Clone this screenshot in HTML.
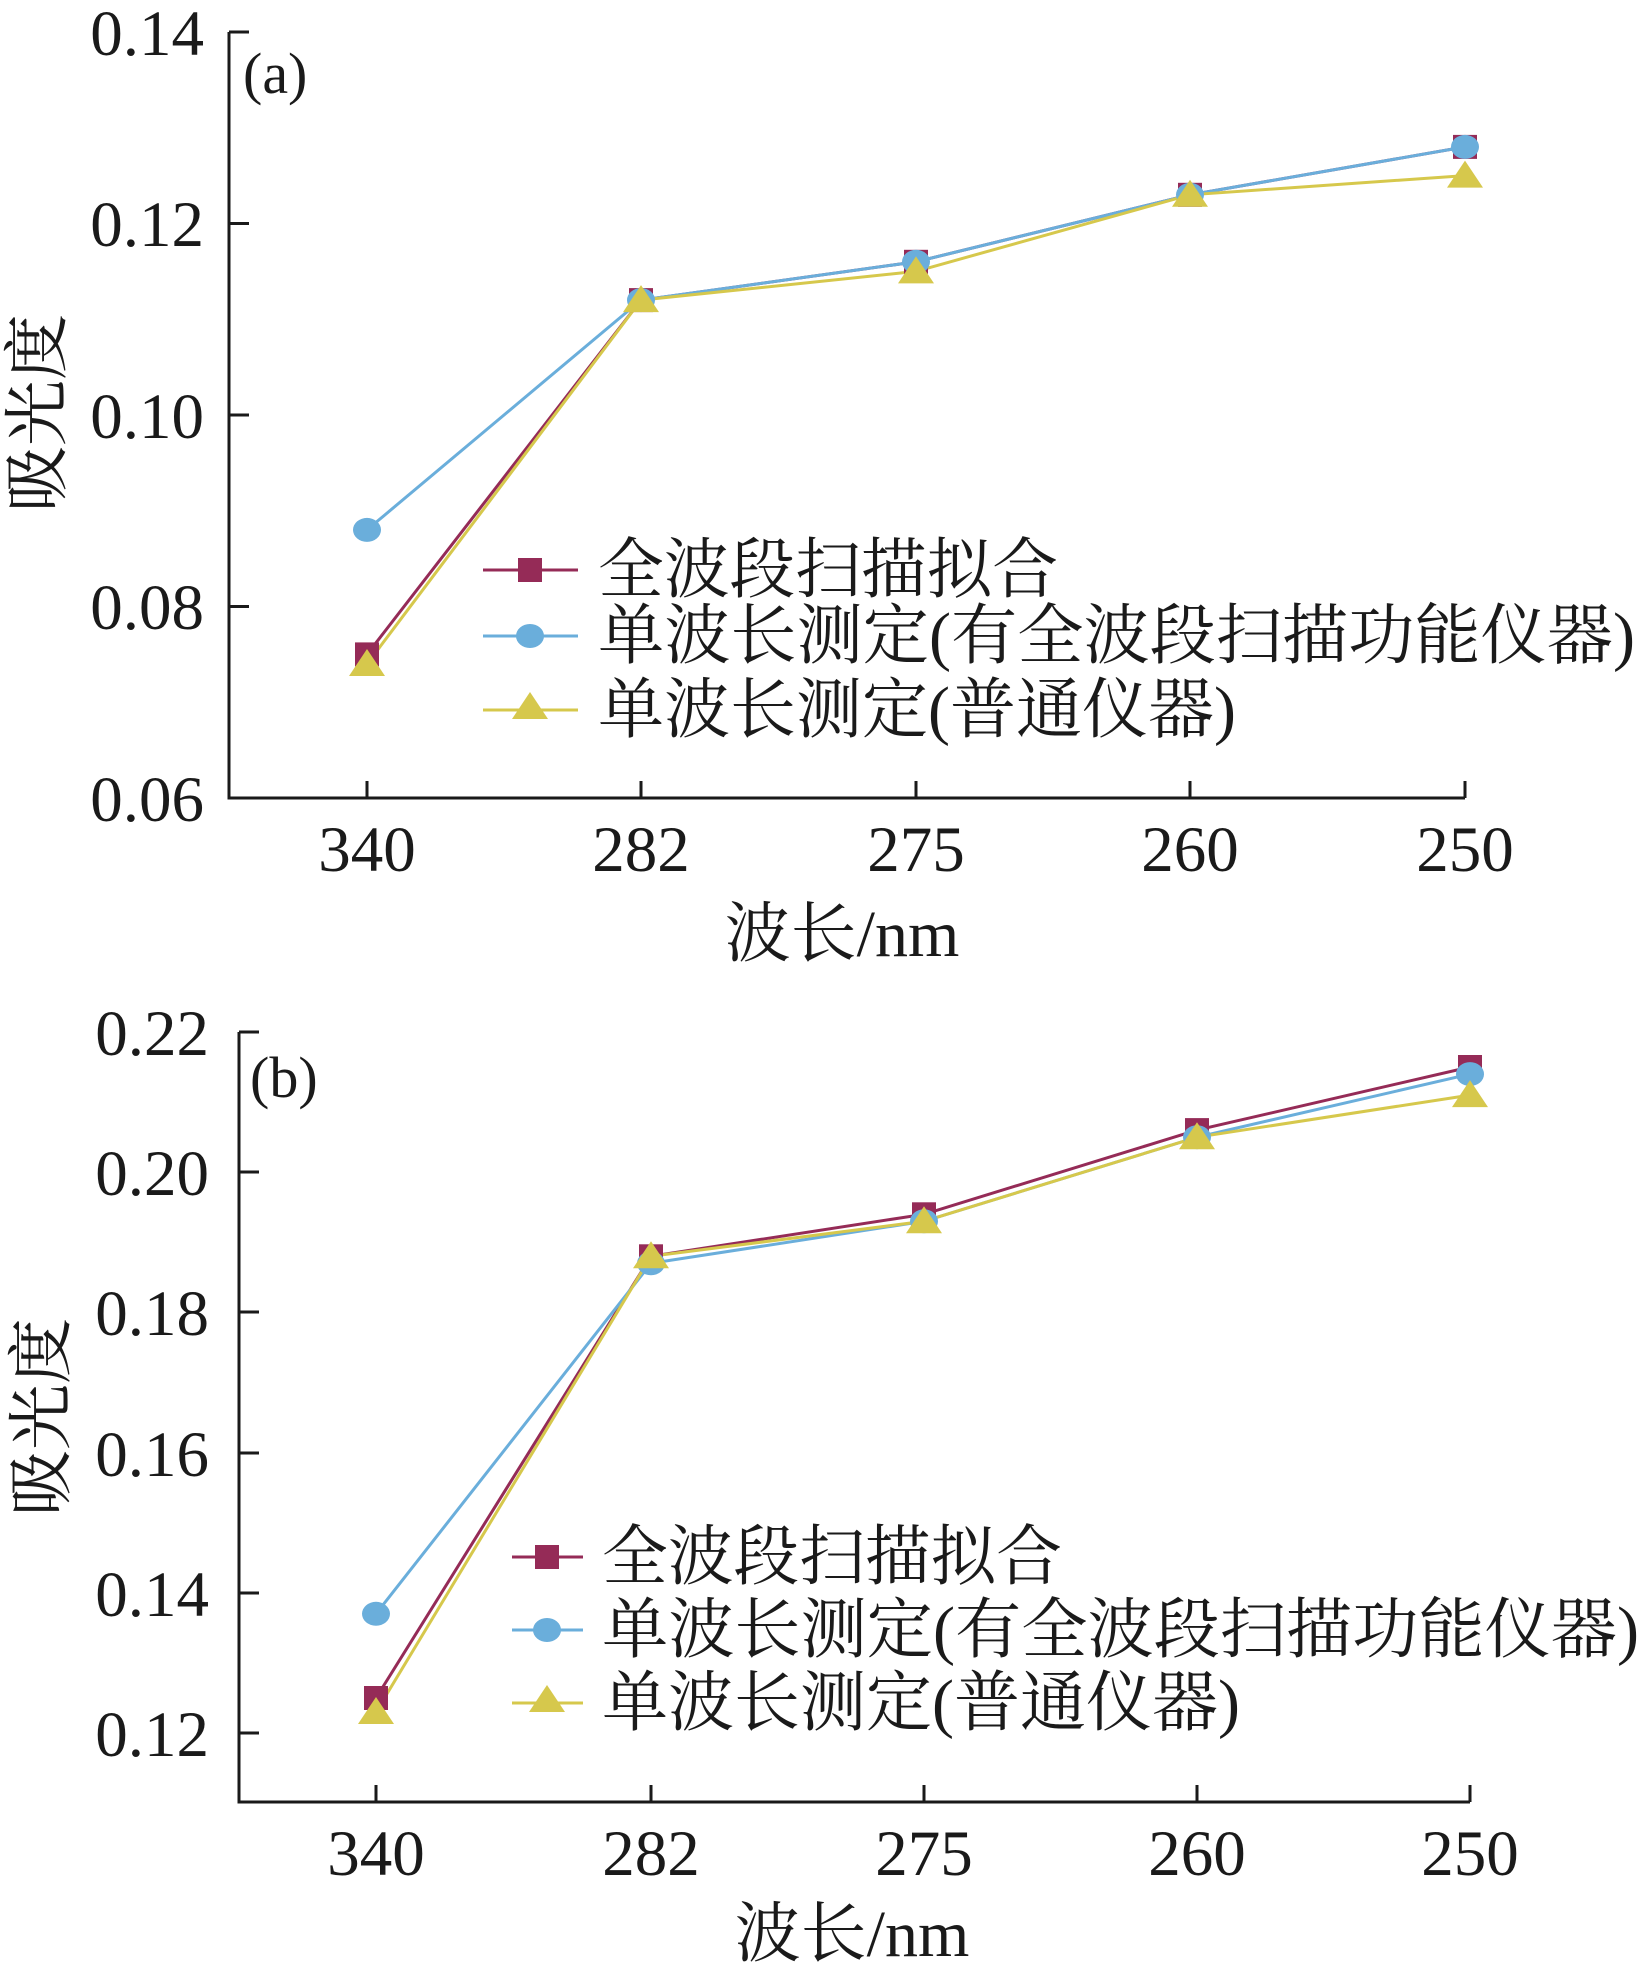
<!DOCTYPE html>
<html><head><meta charset="utf-8"><style>
html,body{margin:0;padding:0;background:#fff}
svg{display:block}
.t{font-family:"Liberation Serif",serif;font-size:65px;fill:#1a1a1a}
.c{font-family:"Liberation Serif","Noto Serif CJK SC",serif;font-size:66px;fill:#1a1a1a}
</style></head><body>
<svg width="1646" height="1979" viewBox="0 0 1646 1979" xmlns="http://www.w3.org/2000/svg">
<defs>
<rect id="sq" x="-12" y="-12" width="24" height="24" fill="#952b57"/>
<ellipse id="ci" rx="14" ry="12" fill="#6aaedb"/>
<polygon id="tr" points="0,-15 18,12 -18,12" fill="#d6c84c"/>
</defs>
<!-- Panel A -->
<g stroke="#1a1a1a" stroke-width="3" fill="none">
<path d="M229,32 V798 H1465"/>
<path d="M229,32 h20 M229,223.5 h20 M229,415 h20 M229,606.5 h20"/>
<path d="M367,798 v-17 M641,798 v-17 M916,798 v-17 M1190,798 v-17 M1465,798 v-17"/>
</g>
<g class="t" text-anchor="end">
<text x="204" y="55">0.14</text><text x="204" y="246">0.12</text><text x="204" y="438">0.10</text><text x="204" y="629">0.08</text><text x="204" y="821">0.06</text>
</g>
<g class="t" text-anchor="middle">
<text x="367" y="871">340</text><text x="641" y="871">282</text><text x="916" y="871">275</text><text x="1190" y="871">260</text><text x="1465" y="871">250</text>
</g>
<text class="c" x="243" y="93" style="font-size:58px">(a)</text>
<text class="c" x="842" y="956" text-anchor="middle">波长/nm</text>
<text class="c" x="0" y="0" text-anchor="middle" transform="translate(60,413) rotate(-90)">吸光度</text>
<g fill="none" stroke-width="3">
<polyline stroke="#952b57" points="367,654.4 641,300.1 916,261.8 1190,194.8 1465,146.9"/>
<polyline stroke="#6aaedb" points="367,529.9 641,300.1 916,261.8 1190,194.8 1465,146.9"/>
<polyline stroke="#d6c84c" points="367,664 641,300.1 916,271.4 1190,194.8 1465,175.6"/>
</g>
<use href="#sq" x="367" y="654.4"/><use href="#sq" x="641" y="300.1"/><use href="#sq" x="916" y="261.8"/><use href="#sq" x="1190" y="194.8"/><use href="#sq" x="1465" y="146.9"/>
<use href="#ci" x="367" y="529.9"/><use href="#ci" x="641" y="300.1"/><use href="#ci" x="916" y="261.8"/><use href="#ci" x="1190" y="194.8"/><use href="#ci" x="1465" y="146.9"/>
<use href="#tr" x="367" y="664"/><use href="#tr" x="641" y="300.1"/><use href="#tr" x="916" y="271.4"/><use href="#tr" x="1190" y="194.8"/><use href="#tr" x="1465" y="175.6"/>
<g stroke-width="3">
<line x1="483" y1="570" x2="578" y2="570" stroke="#952b57"/>
<line x1="483" y1="636" x2="578" y2="636" stroke="#6aaedb"/>
<line x1="483" y1="710" x2="578" y2="710" stroke="#d6c84c"/>
</g>
<use href="#sq" x="530" y="570"/><use href="#ci" x="530" y="636"/><use href="#tr" x="530" y="707"/>
<text class="c" x="598" y="592" textLength="460" lengthAdjust="spacingAndGlyphs">全波段扫描拟合</text>
<text class="c" x="598" y="658" textLength="1037" lengthAdjust="spacingAndGlyphs">单波长测定(有全波段扫描功能仪器)</text>
<text class="c" x="598" y="732" textLength="638" lengthAdjust="spacingAndGlyphs">单波长测定(普通仪器)</text>

<!-- Panel B -->
<g stroke="#1a1a1a" stroke-width="3" fill="none">
<path d="M239,1032 V1802 H1470"/>
<path d="M239,1032 h20 M239,1172 h20 M239,1312 h20 M239,1453 h20 M239,1593 h20 M239,1733 h20"/>
<path d="M376,1802 v-17 M651,1802 v-17 M924,1802 v-17 M1197,1802 v-17 M1470,1802 v-17"/>
</g>
<g class="t" text-anchor="end">
<text x="209" y="1055">0.22</text><text x="209" y="1195">0.20</text><text x="209" y="1335">0.18</text><text x="209" y="1476">0.16</text><text x="209" y="1616">0.14</text><text x="209" y="1756">0.12</text>
</g>
<g class="t" text-anchor="middle">
<text x="376" y="1875">340</text><text x="651" y="1875">282</text><text x="924" y="1875">275</text><text x="1197" y="1875">260</text><text x="1470" y="1875">250</text>
</g>
<text class="c" x="250" y="1097" style="font-size:58px">(b)</text>
<text class="c" x="852" y="1956" text-anchor="middle">波长/nm</text>
<text class="c" x="0" y="0" text-anchor="middle" transform="translate(64,1417) rotate(-90)">吸光度</text>
<g fill="none" stroke-width="3">
<polyline stroke="#952b57" points="376,1698 651,1256.3 924,1214.3 1197,1130.1 1470,1067"/>
<polyline stroke="#6aaedb" points="376,1613.8 651,1263.3 924,1221.3 1197,1137.2 1470,1074.1"/>
<polyline stroke="#d6c84c" points="376,1712 651,1256.3 924,1221.3 1197,1137.2 1470,1095.1"/>
</g>
<use href="#sq" x="376" y="1698"/><use href="#sq" x="651" y="1256.3"/><use href="#sq" x="924" y="1214.3"/><use href="#sq" x="1197" y="1130.1"/><use href="#sq" x="1470" y="1067"/>
<use href="#ci" x="376" y="1613.8"/><use href="#ci" x="651" y="1263.3"/><use href="#ci" x="924" y="1221.3"/><use href="#ci" x="1197" y="1137.2"/><use href="#ci" x="1470" y="1074.1"/>
<use href="#tr" x="376" y="1712"/><use href="#tr" x="651" y="1256.3"/><use href="#tr" x="924" y="1221.3"/><use href="#tr" x="1197" y="1137.2"/><use href="#tr" x="1470" y="1095.1"/>
<g stroke-width="3">
<line x1="512" y1="1557" x2="583" y2="1557" stroke="#952b57"/>
<line x1="512" y1="1630" x2="583" y2="1630" stroke="#6aaedb"/>
<line x1="512" y1="1703" x2="583" y2="1703" stroke="#d6c84c"/>
</g>
<use href="#sq" x="547" y="1557"/><use href="#ci" x="547" y="1630"/><use href="#tr" x="547" y="1700"/>
<text class="c" x="602" y="1579" textLength="460" lengthAdjust="spacingAndGlyphs">全波段扫描拟合</text>
<text class="c" x="602" y="1652" textLength="1037" lengthAdjust="spacingAndGlyphs">单波长测定(有全波段扫描功能仪器)</text>
<text class="c" x="602" y="1725" textLength="638" lengthAdjust="spacingAndGlyphs">单波长测定(普通仪器)</text>
</svg>
</body></html>
